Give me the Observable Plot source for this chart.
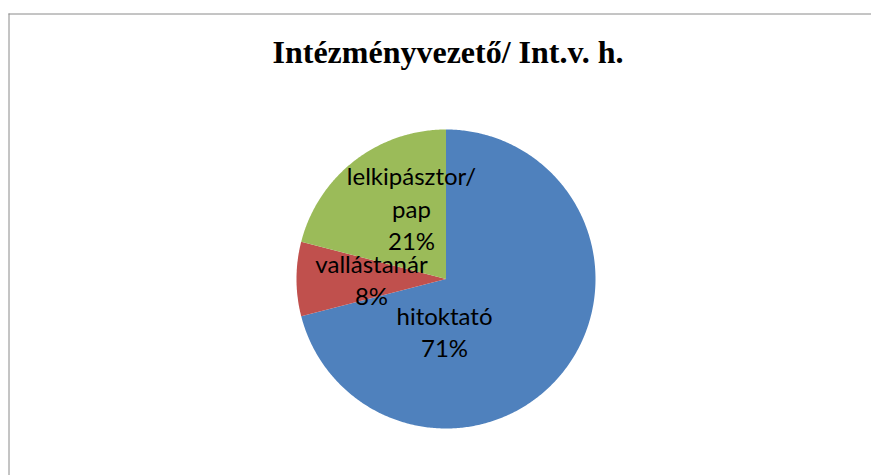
<!DOCTYPE html>
<html>
<head>
<meta charset="utf-8">
<script src="https://cdn.jsdelivr.net/npm/d3@7"></script>
<script src="https://cdn.jsdelivr.net/npm/@observablehq/plot@0.6"></script>
<style>
  html, body { margin: 0; padding: 0; background: #fff; }
  #chart svg { display: block; }
</style>
</head>
<body>
<div id="chart"></div>
<script>
// ---- data ----
const title = "Intézményvezető/ Int.v. h.";
const categories = ["hitoktató", "vallástanár", "lelkipásztor/\npap"];
const shares = [71, 8, 21];
const labels = ["71%", "8%", "21%"];
const colors = ["#4F81BD", "#C0504D", "#9BBB59"];

// ---- layout (pixel space) ----
const W = 871, H = 475;
const cx = 445.5, cy = 278.5, R = 149.5;
// label anchor points (Excel best-fit placement)
const labelPos = [[444, 330], [371, 278], [411, 207]];

const total = d3.sum(shares);
const polys = [];
let cum = 0;
shares.forEach((v, i) => {
  const a0 = cum / total * 2 * Math.PI;
  cum += v;
  const a1 = cum / total * 2 * Math.PI;
  polys.push({cat: categories[i], px: cx, py: cy});
  const n = Math.max(2, Math.ceil((a1 - a0) / 0.01));
  for (let k = 0; k <= n; k++) {
    const a = a0 + (a1 - a0) * k / n;
    polys.push({cat: categories[i], px: cx + R * Math.sin(a), py: cy - R * Math.cos(a)});
  }
  polys.push({cat: categories[i], px: cx, py: cy});
});

const labelData = categories.map((c, i) => ({
  text: c + "\n" + labels[i],
  px: labelPos[i][0],
  py: labelPos[i][1]
}));

const chart = Plot.plot({
  width: W,
  height: H,
  margin: 0,
  x: {domain: [0, W], range: [0, W], axis: null},
  y: {domain: [0, H], range: [0, H], axis: null},
  color: {domain: categories, range: colors},
  style: {background: "#fff"},
  marks: [
    Plot.ruleY([13.5], {x1: 8.5, x2: W, stroke: "#8a8a8a", strokeWidth: 1}),
    Plot.ruleX([8.5], {y1: 13.5, y2: H, stroke: "#8a8a8a", strokeWidth: 1}),
    Plot.line(polys, {x: "px", y: "py", z: "cat", fill: "cat", stroke: "none", curve: "linear"}),
    Plot.text(labelData, {
      x: "px", y: "py", text: "text",
      fontSize: 24, lineHeight: 1.35,
      fontFamily: "Lato, 'Open Sans', sans-serif",
      fill: "#000", textAnchor: "middle", lineAnchor: "middle"
    }),
    Plot.text([title], {
      x: 447.5, y: 62, text: d => d,
      fontSize: 32, fontWeight: "bold",
      fontFamily: "'Liberation Serif', 'Times New Roman', serif",
      fill: "#000", textAnchor: "middle", lineAnchor: "bottom"
    })
  ]
});
document.getElementById("chart").appendChild(chart);
</script>
</body>
</html>
